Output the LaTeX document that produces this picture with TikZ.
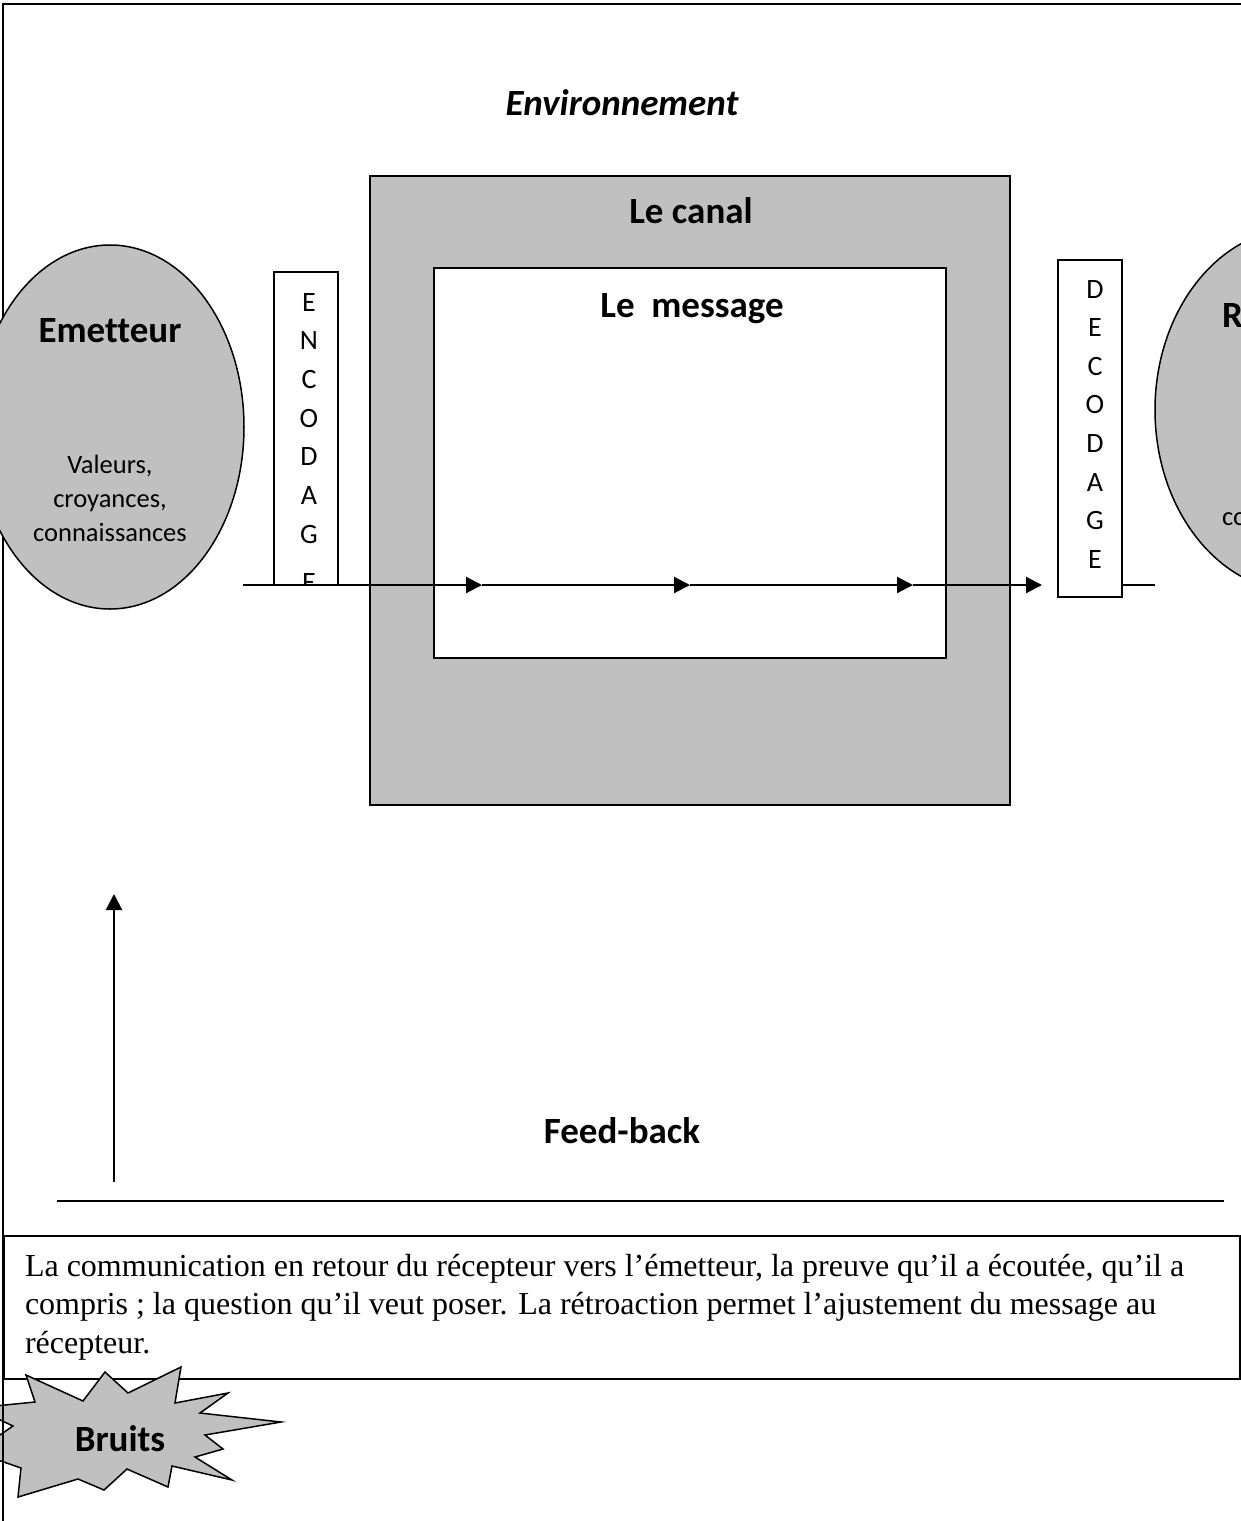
\documentclass[tikz,border=0pt]{standalone}
\usepackage{fontspec}
\setmainfont{Carlito}[Ligatures=NoCommon]
\newfontfamily\serifbody{Liberation Serif}
\usetikzlibrary{arrows.meta,shapes.geometric}
\definecolor{shade}{RGB}{192,192,192}
\begin{document}
\begin{tikzpicture}[x=1pt,y=-1pt,
  every node/.style={inner sep=0pt,outer sep=0pt},
  frameline/.style={line width=1.7pt},
  rectbox/.style={draw,line width=1.7pt,rectangle,anchor=north west},
  oval/.style={draw,ellipse,fill=shade,line width=1.5pt},
  bigbold/.style={font=\fontsize{37}{44}\selectfont\bfseries,anchor=base},
  smalltxt/.style={font=\fontsize{26.5}{32}\selectfont,anchor=base},
  letter/.style={font=\fontsize{28}{34}\selectfont,anchor=base},
  bodytxt/.style={font=\serifbody\fontsize{32}{38.5}\selectfont,anchor=base west},
  flow/.style={line width=2.2pt,-{Triangle[length=16pt,width=16pt]}},
  thinline/.style={line width=1.4pt},
  burst/.style={draw,fill=shade,line width=1.5pt,line join=miter}
]
\useasboundingbox (0,0) rectangle (1241,1521);

% note box at the bottom
\node[rectbox,minimum width=1236pt,minimum height=143pt] (note) at (4,1236) {};
\node[bodytxt] (note1) at (25,1276) {La communication en retour du récepteur vers l’émetteur, la preuve qu’il a écoutée, qu’il a};
\node[bodytxt] (note2) at (25,1314.5) {compris ; la question qu’il veut poser. La rétroaction permet l’ajustement du message au};
\node[bodytxt] (note3) at (25,1353) {récepteur.};

% noise burst
\draw[burst] (26,1375) -- (83,1401) -- (105,1372) -- (128,1393) -- (181,1367) -- (175,1403)
  -- (228,1393) -- (200,1413) -- (281,1422) -- (205,1435) -- (223,1449) -- (195,1457)
  -- (232,1480) -- (172,1466) -- (168,1487) -- (127,1469) -- (104,1490) -- (78,1479)
  -- (18,1497) -- (21,1468) -- (-25,1452) -- (13,1426) -- (-25,1408) -- (35,1402) -- cycle;
\node[bigbold] (bruits) at (120,1451) {Bruits};

% outer frame
\draw[frameline] (3,1530) -- (3,4) -- (1250,4);

\node[bigbold,font=\fontsize{37}{44}\selectfont\bfseries\itshape] (env) at (622,115) {Environnement};

% sender and receiver
\node[oval,minimum width=268pt,minimum height=364pt] (emit) at (110,427) {};
\node[bigbold] (emitname) at (110,342) {Emetteur};
\node[smalltxt] (emitv1) at (110,473) {Valeurs,};
\node[smalltxt] (emitv2) at (110,507) {croyances,};
\node[smalltxt] (emitv3) at (110,541) {connaissances};

\node[oval,minimum width=290pt,minimum height=364pt] (recv) at (1300,410) {};
\node[bigbold,anchor=base west] (recvname) at (1222,327) {Récepteur};
\node[smalltxt,anchor=base west] (recvv3) at (1222,525) {connaissances};

% channel and message
\node[rectbox,fill=shade,minimum width=640pt,minimum height=629pt] (canal) at (370,176) {};
\node[bigbold] (canaltxt) at (691,223) {Le canal};
\node[rectbox,fill=white,minimum width=512pt,minimum height=390pt] (msg) at (434,268) {};
\node[bigbold] (msgtxt) at (692,317) {Le\ \ message};

% encoding / decoding boxes
\node[rectbox,fill=white,line width=1.5pt,minimum width=64pt,minimum height=313pt] (enc) at (274,272) {};
\begin{scope}
  \clip (enc.south west) rectangle (enc.north east);
  \foreach \L [count=\i from 0] in {E,N,C,O,D,A,G}
    \node[letter] (enc-\i) at (309,311+38.7*\i) {\L};
  \node[letter] (enc-7) at (309,591) {E};
\end{scope}
\node[rectbox,fill=white,line width=1.5pt,minimum width=64pt,minimum height=337pt] (dec) at (1058,260) {};
\foreach \L [count=\i from 0] in {D,E,C,O,D,A,G,E}
  \node[letter] (dec-\i) at (1095,298+38.6*\i) {\L};

% message flow
\coordinate (e0) at (243,585);
\coordinate (a1) at (482,585);
\coordinate (a2) at (690,585);
\coordinate (a3) at (913,585);
\coordinate (a4) at (1042,585);
\coordinate (r0) at (1155,585);
\draw[thinline] (e0) -- (enc.south west);
\draw[flow] (enc.south east) -- (a1);
\draw[flow] (a1) -- (a2);
\draw[flow] (a2) -- (a3);
\draw[flow] (a3) -- (a4);
\draw[thinline] (dec.east |- a4) -- (r0);

% feedback
\coordinate (f0) at (114,1182);
\coordinate (f1) at (114,894);
\draw[flow] (f0) -- (f1);
\node[bigbold] (fb) at (622,1143) {Feed-back};
\coordinate (h0) at (57,1201);
\coordinate (h1) at (1224,1201);
\draw[thinline] (h0) -- (h1);
\end{tikzpicture}
\end{document}
